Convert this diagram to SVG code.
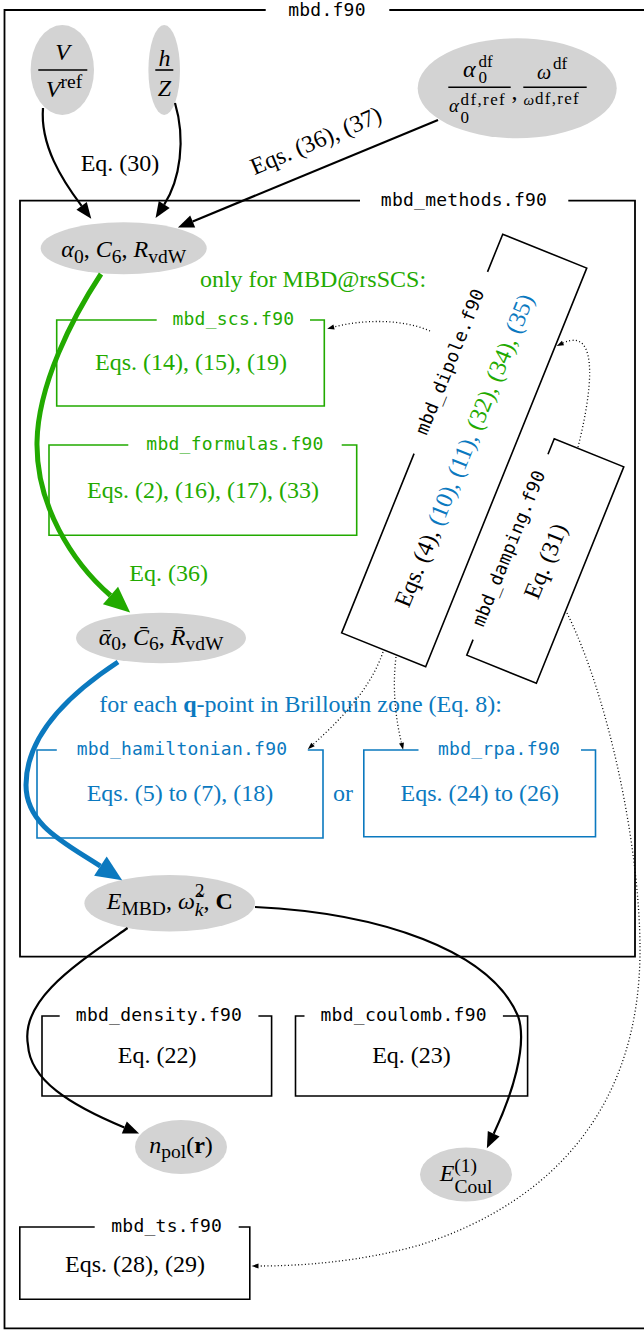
<svg xmlns="http://www.w3.org/2000/svg" width="644" height="1330" viewBox="0 0 644 1330">
<style>
.frame{fill:none;stroke:#000;stroke-width:1.8}
.box{fill:none;stroke-width:1.6}
.lbl{font-family:"DejaVu Sans Mono",monospace;font-size:18px;letter-spacing:0.25px;text-anchor:middle}
.t{font-family:"Liberation Serif","Times New Roman",serif;font-size:24px;text-anchor:middle}
.ts{font-family:"Liberation Serif","Times New Roman",serif;font-size:24px}
.i{font-style:italic}
.b{font-weight:bold}
.s{font-size:19.5px}
.sc{font-size:17px}
.node{fill:#d3d3d3}
.e{fill:none;stroke:#000;stroke-width:2.2}
.dot{fill:none;stroke:#000;stroke-width:1.3;stroke-dasharray:1 2.4}
.green{fill:#22aa00}
.blue{fill:#0b79bf}
</style>
<defs>
<marker id="ab" markerUnits="userSpaceOnUse" markerWidth="20" markerHeight="16" refX="0" refY="6.5" orient="auto" overflow="visible"><path d="M0,0 L16,6.5 L0,13 z" fill="#000"/></marker>
<marker id="ag" markerUnits="userSpaceOnUse" markerWidth="30" markerHeight="26" refX="0" refY="11.5" orient="auto" overflow="visible"><path d="M0,0 L26,11.5 L0,23 z" fill="#22aa00"/></marker>
<marker id="abl" markerUnits="userSpaceOnUse" markerWidth="30" markerHeight="26" refX="0" refY="11.5" orient="auto" overflow="visible"><path d="M0,0 L26,11.5 L0,23 z" fill="#0b79bf"/></marker>
<marker id="as" markerUnits="userSpaceOnUse" markerWidth="10" markerHeight="8" refX="0" refY="2.5" orient="auto" overflow="visible"><path d="M0,0 L7,2.5 L0,5 z" fill="#000"/></marker>
</defs>
<rect width="644" height="1330" fill="#fff"/>

<g id="cluster_mbd">
<path class="frame" d="M265.7,10 L4.5,10 L4.5,1328.3 L646,1328.3 L646,10 L389.3,10"/>
<text class="lbl" x="327" y="16">mbd.f90</text>
</g>
<g id="cluster_methods">
<path class="frame" d="M360,200.7 L20,200.7 L20,956.7 L635,956.7 L635,200.7 L568.3,200.7"/>
<text class="lbl" x="464" y="206">mbd_methods.f90</text>
</g>

<g id="node_V">
<ellipse class="node" cx="62.3" cy="70" rx="31.7" ry="45"/>
<text class="t i" x="62.5" y="60">V</text>
<line x1="38.3" y1="70" x2="87.3" y2="70" stroke="#000" stroke-width="1.6"/>
<text class="t" x="64" y="97"><tspan class="i">V</tspan><tspan class="s" dy="-9">ref</tspan></text>
</g>
<g id="node_hZ">
<ellipse class="node" cx="164.2" cy="70" rx="15.8" ry="45"/>
<text class="t i" x="164.5" y="66">h</text>
<line x1="155.3" y1="70" x2="173.3" y2="70" stroke="#000" stroke-width="1.6"/>
<text class="t i" x="164.5" y="96">Z</text>
</g>
<g id="node_ratio">
<ellipse class="node" cx="517.2" cy="88.3" rx="99.5" ry="50"/>
<text class="ts"><tspan class="i" x="463" y="77">α</tspan><tspan class="sc" x="478.5" y="67">df</tspan><tspan class="sc" x="478.5" y="83">0</tspan></text>
<line x1="448.3" y1="87.3" x2="510.7" y2="87.3" stroke="#000" stroke-width="1.6"/>
<text class="ts"><tspan class="i" font-size="19" x="449" y="111.5">α</tspan><tspan class="sc" letter-spacing="1.4" x="460.5" y="105">df,ref</tspan><tspan class="sc" x="460.5" y="123">0</tspan></text>
<text class="ts" x="511.5" y="99">,</text>
<line x1="523.3" y1="87.3" x2="586.7" y2="87.3" stroke="#000" stroke-width="1.6"/>
<text class="ts"><tspan class="i" font-size="20" x="537" y="79">ω</tspan><tspan class="sc" x="553" y="69">df</tspan></text>
<text class="ts"><tspan class="i" font-size="15" x="523.5" y="105">ω</tspan><tspan class="sc" letter-spacing="1.3" x="535" y="103.5">df,ref</tspan></text>
</g>
<g id="node_alpha">
<ellipse class="node" cx="123.7" cy="248.3" rx="83" ry="26"/>
<text class="t" x="123.7" y="256.7"><tspan class="i">α</tspan><tspan class="s" dy="6">0</tspan><tspan dy="-6">, </tspan><tspan class="i">C</tspan><tspan class="s" dy="6">6</tspan><tspan dy="-6">, </tspan><tspan class="i">R</tspan><tspan class="s" dy="6">vdW</tspan></text>
</g>
<g id="node_scs">
<path class="box" stroke="#22aa00" d="M156.7,320 L56.7,320 L56.7,406 L324.3,406 L324.3,320 L310,320"/>
<text class="lbl green" x="233.4" y="325">mbd_scs.f90</text>
<text class="t green" x="191" y="370">Eqs. (14), (15), (19)</text>
</g>
<g id="node_formulas">
<path class="box" stroke="#22aa00" d="M128.3,445 L49,445 L49,535.3 L356.7,535.3 L356.7,445 L341.7,445"/>
<text class="lbl green" x="235" y="450">mbd_formulas.f90</text>
<text class="t green" x="203" y="498">Eqs. (2), (16), (17), (33)</text>
</g>
<g id="node_dipole" transform="translate(464.2,450.5) rotate(-68)">
<path class="box" stroke="#000" d="M-21.7,-45.3 L-215,-45.3 L-215,45.3 L215,45.3 L215,-45.3 L174.4,-45.3"/>
<text class="lbl" x="77" y="-40.3">mbd_dipole.f90</text>
<text class="t" x="0" y="8">Eqs. (4), <tspan class="blue">(10), (11), </tspan><tspan class="green">(32), (34), </tspan><tspan class="blue">(35)</tspan></text>
</g>
<g id="node_damping" transform="translate(545.3,561) rotate(-68)">
<path class="box" stroke="#000" d="M-100,-37.5 L-116.7,-37.5 L-116.7,37.5 L116.7,37.5 L116.7,-37.5 L100,-37.5"/>
<text class="lbl" x="-2" y="-32.5">mbd_damping.f90</text>
<text class="t" x="0" y="8">Eq. (31)</text>
</g>
<g id="node_alphabar">
<ellipse class="node" cx="161" cy="638" rx="85" ry="25.3"/>
<text class="t" x="161" y="645"><tspan class="i">ᾱ</tspan><tspan class="s" dy="5">0</tspan><tspan dy="-5">, </tspan><tspan class="i">C̄</tspan><tspan class="s" dy="5">6</tspan><tspan dy="-5">, </tspan><tspan class="i">R̄</tspan><tspan class="s" dy="5">vdW</tspan></text>
</g>
<g id="label_qpoint">
<text class="t blue" x="300.6" y="711.7">for each <tspan class="b">q</tspan>-point in Brillouin zone (Eq. 8):</text>
</g>
<g id="node_hamiltonian">
<path class="box" stroke="#0b79bf" d="M56.8,750 L37,750 L37,838 L323,838 L323,750 L307.8,750"/>
<text class="lbl blue" x="182" y="755">mbd_hamiltonian.f90</text>
<text class="t blue" x="180" y="800.7">Eqs. (5) to (7), (18)</text>
</g>
<g id="label_or">
<text class="t blue" x="343" y="800.7">or</text>
</g>
<g id="node_rpa">
<path class="box" stroke="#0b79bf" d="M418.5,750 L363.8,750 L363.8,836.7 L595.5,836.7 L595.5,750 L581,750"/>
<text class="lbl blue" x="499" y="755">mbd_rpa.f90</text>
<text class="t blue" x="479.8" y="800.7">Eqs. (24) to (26)</text>
</g>
<g id="node_EMBD">
<ellipse class="node" cx="169.7" cy="903.3" rx="85.3" ry="28.3"/>
<text class="t" x="169.8" y="909"><tspan class="i">E</tspan><tspan class="s" dy="6">MBD</tspan><tspan dy="-6">, </tspan><tspan class="i">ω̃</tspan><tspan class="s" dy="-12">2</tspan><tspan class="s i" dx="-9.75" dy="19">k</tspan><tspan dy="-7">, </tspan><tspan class="b">C</tspan></text>
</g>
<g id="node_density">
<path class="box" stroke="#000" d="M59.7,1016 L42,1016 L42,1096 L271.6,1096 L271.6,1016 L258.4,1016"/>
<text class="lbl" x="159" y="1021">mbd_density.f90</text>
<text class="t" x="157.2" y="1063">Eq. (22)</text>
</g>
<g id="node_coulomb">
<path class="box" stroke="#000" d="M304.5,1016 L295.5,1016 L295.5,1096 L527.6,1096 L527.6,1016 L502.9,1016"/>
<text class="lbl" x="403.7" y="1021">mbd_coulomb.f90</text>
<text class="t" x="411.5" y="1063">Eq. (23)</text>
</g>
<g id="node_npol">
<ellipse class="node" cx="181" cy="1147" rx="46" ry="27"/>
<text class="t" x="181" y="1153"><tspan class="i">n</tspan><tspan class="s" dy="5">pol</tspan><tspan dy="-5">(</tspan><tspan class="b">r</tspan>)</text>
</g>
<g id="node_ECoul">
<ellipse class="node" cx="466" cy="1174.5" rx="46" ry="27"/>
<text class="t" x="466" y="1181"><tspan class="i">E</tspan><tspan class="s" dy="-9">(1)</tspan><tspan class="s" dx="-22.7" dy="21">Coul</tspan></text>
</g>
<g id="node_ts">
<path class="box" stroke="#000" d="M94.7,1227 L19.8,1227 L19.8,1299.3 L249.8,1299.3 L249.8,1227 L238.7,1227"/>
<text class="lbl" x="166.7" y="1232">mbd_ts.f90</text>
<text class="t" x="135" y="1271.7">Eqs. (28), (29)</text>
</g>

<g id="edges">
<path class="e" d="M43,108 C40,145 62,180 81.6,205.9" marker-end="url(#ab)"/>
<path class="e" d="M175,103 C186,140 180,180 164.2,204.6" marker-end="url(#ab)"/>
<text class="t" x="120" y="171">Eq. (30)</text>
<path class="e" d="M438,120 L192.7,221.5" marker-end="url(#ab)"/>
<text class="t" transform="translate(319,148) rotate(-23)" x="0" y="0">Eqs. (36), (37)</text>
<path fill="none" stroke="#22aa00" stroke-width="5" d="M101,274 C72,318 38,385 37,442 C36,505 72,562 110.5,595.5" marker-end="url(#ag)"/>
<text class="t green" x="313" y="287">only for MBD@rsSCS:</text>
<text class="t green" x="168.7" y="580.7">Eq. (36)</text>
<path fill="none" stroke="#0b79bf" stroke-width="5" d="M118,662 C60,700 26,740 26,785 C26,825 65,843 100.4,866.1" marker-end="url(#abl)"/>
<path class="e" d="M127.6,928 C75,965 20,1000 28,1045 C30,1080 70,1105 124.3,1127.5" marker-end="url(#ab)"/>
<path class="e" d="M255,907 C380,913 490,950 518,1016 C528,1045 512,1095 493.7,1133.8" marker-end="url(#ab)"/>
<path class="dot" d="M430,331 C400,318 360,320 334,327" marker-end="url(#as)"/>
<path class="dot" d="M578,447 C590,400 602,325 563,343" marker-end="url(#as)"/>
<path class="dot" d="M383,652 C370,690 340,720 313,744.5" marker-end="url(#as)"/>
<path class="dot" d="M396,657 C392,690 396,720 401.5,743" marker-end="url(#as)"/>
<path class="dot" d="M567,613 C610,700 640,850 640,950 C640,1100 560,1200 420,1245 C360,1262 300,1266 258.5,1266" marker-end="url(#as)"/>
</g>
</svg>
